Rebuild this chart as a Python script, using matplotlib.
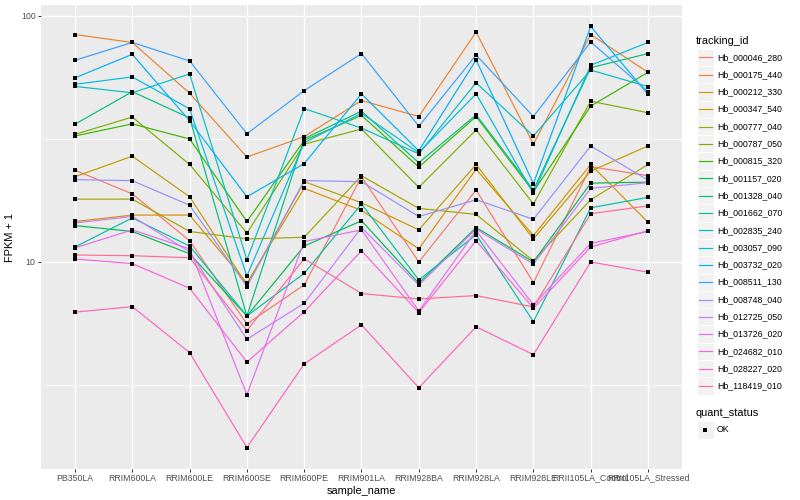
import numpy as np
import matplotlib
matplotlib.use("Agg")
import matplotlib.pyplot as plt
from matplotlib.lines import Line2D
from matplotlib.patches import Rectangle
from matplotlib.ticker import NullLocator

plt.rcParams['font.family'] = ['Liberation Sans', 'DejaVu Sans']

samples = ['PB350LA', 'RRIM600LA', 'RRIM600LE', 'RRIM600SE', 'RRIM600PE', 'RRIM901LA',
           'RRIM928BA', 'RRIM928LA', 'RRIM928LE', 'RRII105LA_Control', 'RRII105LA_Stressed']

tracking_ids = ['Hb_000046_280', 'Hb_000175_440', 'Hb_000212_330', 'Hb_000347_540',
                'Hb_000777_040', 'Hb_000787_050', 'Hb_000815_320', 'Hb_001157_020',
                'Hb_001328_040', 'Hb_001662_070', 'Hb_002835_240', 'Hb_003057_090',
                'Hb_003732_020', 'Hb_008511_130', 'Hb_008748_040', 'Hb_012725_050',
                'Hb_013726_020', 'Hb_024682_010', 'Hb_028227_020', 'Hb_118419_010']

# FPKM + 1, one list per gene, in sample order
hb_000046_280 = [23.6, 18.9, 12.2, 5.6, 8.06, 22.2, 10.0, 19.6, 8.24, 24.4, 22.4]
hb_000175_440 = [84, 78, 48.5, 26.7, 32.3, 45.3, 39, 86, 30.1, 84, 59]
hb_000212_330 = [14.6, 15.5, 15.5, 8.2, 19.9, 16.2, 11.3, 23.8, 12.8, 24.9, 14.5]
hb_000347_540 = [22.2, 26.9, 18.4, 8.06, 21.2, 17.4, 13.5, 24.9, 12.4, 23.4, 29.6]
hb_000777_040 = [18.0, 18.0, 13.3, 12.4, 12.6, 22.4, 16.5, 15.6, 10.1, 17.9, 24.9]
hb_000787_050 = [33.0, 38.8, 24.9, 13.1, 30.1, 34.7, 20.1, 34.4, 17.2, 45, 40.4]
hb_000815_320 = [32.5, 36.4, 31.6, 14.6, 31.2, 39.4, 24.3, 39, 19.3, 43, 59]
hb_001157_020 = [14.05, 13.3, 10.8, 6.03, 11.6, 14.7, 8.19, 13.8, 10.0, 20.9, 21.1]
hb_001328_040 = [36.3, 49.2, 38.5, 6.03, 31.7, 41, 25.3, 39.6, 19.6, 61.6, 70.3]
hb_001662_070 = [11.5, 15.1, 11.6, 6.03, 8.99, 17.2, 8.45, 12.9, 5.72, 16.6, 18.3]
hb_002835_240 = [51.7, 48.7, 58.1, 10.2, 42, 35, 27.5, 53.5, 32.5, 60.2, 51.6]
hb_003057_090 = [52.7, 56.5, 41.9, 8.77, 30.5, 40.2, 27.8, 48.2, 19.0, 63, 78]
hb_003732_020 = [56, 69.8, 37.5, 18.4, 25.1, 48.2, 28.3, 66.2, 20.8, 90.6, 48]
hb_008511_130 = [66, 78, 65.6, 33.2, 49.7, 70.3, 35.6, 69.4, 39, 78.4, 49.2]
hb_008748_040 = [21.6, 21.4, 17.0, 7.94, 21.4, 21.2, 15.3, 17.9, 14.9, 29.6, 21.5]
hb_012725_050 = [14.4, 15.3, 11.0, 4.85, 6.79, 13.8, 8.06, 13.6, 9.8, 19.9, 21.0]
hb_013726_020 = [11.4, 13.5, 11.3, 2.89, 12.1, 13.5, 6.32, 13.4, 6.7, 11.9, 13.3]
hb_024682_010 = [10.28, 9.84, 7.82, 3.92, 6.27, 11.1, 6.22, 12.2, 6.48, 11.5, 13.4]
hb_028227_020 = [6.25, 6.58, 4.28, 1.76, 3.85, 5.55, 3.08, 5.45, 4.2, 10.0, 9.08]
hb_118419_010 = [10.67, 10.6, 10.4, 5.26, 10.3, 7.44, 7.07, 7.3, 6.56, 15.7, 16.9]

series = [hb_000046_280, hb_000175_440, hb_000212_330, hb_000347_540, hb_000777_040,
          hb_000787_050, hb_000815_320, hb_001157_020, hb_001328_040, hb_001662_070,
          hb_002835_240, hb_003057_090, hb_003732_020, hb_008511_130, hb_008748_040,
          hb_012725_050, hb_013726_020, hb_024682_010, hb_028227_020, hb_118419_010]

# ggplot hue palette, 20 levels
colors = ["#F8766D", "#EA8331", "#D89000", "#C09B00", "#A3A500", "#7CAE00", "#39B600",
          "#00BB4E", "#00BF7D", "#00C1A3", "#00BFC4", "#00BAE0", "#00B0F6", "#35A2FF",
          "#9590FF", "#C77CFF", "#E76BF3", "#FA62DB", "#FF62BC", "#FF6C91"]

W, H = 800, 500
fig = plt.figure(figsize=(W / 100, H / 100), dpi=100)
fig.patch.set_facecolor('white')

def fx(x):
    return x / W

def fy(y):
    return 1 - y / H

ax = fig.add_axes([fx(40.6), fy(468.6), (682.4 - 40.6) / W, (468.6 - 5.4) / H])
ax.set_facecolor('#EBEBEB')
for s in ax.spines.values():
    s.set_visible(False)

x = np.arange(len(samples))
for vals, c in zip(series, colors):
    ax.plot(x, vals, color=c, lw=0.85, zorder=3, solid_capstyle='butt')
for vals in series:
    ax.plot(x, vals, ls='none', marker='s', ms=2.3, mew=0, color='black', zorder=4)

ax.set_yscale('log')
allv = np.log10(np.concatenate([np.array(v, float) for v in series]))
lo, hi = allv.min(), allv.max()
pad = (hi - lo) * 0.05
ax.set_ylim(10 ** (lo - pad), 10 ** (hi + pad))
ax.set_xlim(-0.6, len(samples) - 0.4)

ax.yaxis.set_minor_locator(NullLocator())
ax.set_yticks([10, 100])
ax.set_yticklabels(['10', '100'])
ax.set_xticks(x)
ax.set_xticklabels(samples)

for yv in [10 ** 0.5, 10 ** 1.5]:
    ax.axhline(yv, color='white', lw=0.5, zorder=1)
for yv in [10, 100]:
    ax.axhline(yv, color='white', lw=1.0, zorder=1)
for xv in x:
    ax.axvline(xv, color='white', lw=1.0, zorder=1)

ax.tick_params(axis='both', length=2.0, width=0.7, color='#333333',
               labelsize=6.3, labelcolor='#4D4D4D', pad=1.6)

ax.set_xlabel('sample_name', fontsize=7.9, labelpad=2.5)
ax.set_ylabel('FPKM + 1', fontsize=7.9, labelpad=4)

# legend: tracking_id
fig.text(fx(696), fy(40.5), 'tracking_id', fontsize=7.9, va='center', ha='left')
key = 17.3
for i, (name, c) in enumerate(zip(tracking_ids, colors)):
    cy = 57.3 + i * key
    fig.add_artist(Rectangle((fx(696.5), fy(cy + key / 2)), key / W, key / H,
                             transform=fig.transFigure, facecolor='#F2F2F2',
                             edgecolor='white', lw=0.8))
    fig.add_artist(Line2D([fx(698.5), fx(711.5)], [fy(cy), fy(cy)],
                          transform=fig.transFigure, color=c, lw=0.85))
    fig.text(fx(717), fy(cy), name, fontsize=6.3, va='center', ha='left')

# legend: quant_status
fig.text(fx(696), fy(413), 'quant_status', fontsize=7.9, va='center', ha='left')
cy = 430
fig.add_artist(Rectangle((fx(696.5), fy(cy + key / 2)), key / W, key / H,
                         transform=fig.transFigure, facecolor='#F2F2F2',
                         edgecolor='white', lw=0.8))
fig.add_artist(Line2D([fx(705)], [fy(cy)], transform=fig.transFigure,
                      marker='s', ms=2.3, mew=0, color='black', ls='none'))
fig.text(fx(717), fy(cy), 'OK', fontsize=6.3, va='center', ha='left')

fig.savefig('out.png', dpi=100)
